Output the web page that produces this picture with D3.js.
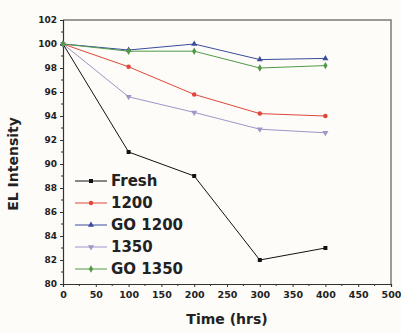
<!DOCTYPE html>
<html>
<head>
<meta charset="utf-8">
<script src="https://cdn.jsdelivr.net/npm/d3@7"></script>
<style>
  body { margin: 0; background: #fdfcf8; }
  svg text { font-family: "DejaVu Sans", sans-serif; font-weight: bold; fill: #222; }
</style>
</head>
<body>
<div id="chart"></div>
<script>
// data
var hours = [0, 100, 200, 300, 400];
var fresh = [100, 91.0, 89.0, 82.0, 83.0];
var s1200 = [100, 98.1, 95.8, 94.2, 94.0];
var go1200 = [100, 99.5, 100.0, 98.7, 98.8];
var s1350 = [100, 95.6, 94.3, 92.9, 92.6];
var go1350 = [100, 99.4, 99.4, 98.0, 98.2];

var seriesNames = ["Fresh", "1200", "GO 1200", "1350", "GO 1350"];
var seriesColors = ["#111111", "#e0463a", "#3a4c9c", "#a293c9", "#4f9a45"];
var seriesShapes = [d3.symbolSquare, d3.symbolCircle, d3.symbolTriangle, "down", d3.symbolDiamond];
var seriesData = [fresh, s1200, go1200, s1350, go1350];

var xTicks = d3.range(0, 501, 50);
var yTicks = d3.range(80, 103, 2);

var width = 401, height = 333;
var margin = {top: 20, right: 10, bottom: 49, left: 63};

var svg = d3.select("#chart").append("svg")
  .attr("width", width)
  .attr("height", height);

var x = d3.scaleLinear().domain([0, 500]).range([margin.left, width - margin.right]);
var y = d3.scaleLinear().domain([80, 102]).range([height - margin.bottom, margin.top]);

// frame (top + right)
svg.append("path")
  .attr("d", "M" + x(0) + "," + y(102) + "H" + x(500) + "V" + y(80))
  .style("fill", "none")
  .style("stroke", "#7a7a7a")
  .style("stroke-width", 1.5);

// x axis
var xAxis = svg.append("g")
  .attr("transform", "translate(0," + y(80) + ")")
  .call(d3.axisBottom(x).tickValues(xTicks).tickSize(3).tickPadding(4));
xAxis.append("g").selectAll("line")
  .data(d3.range(25, 500, 50)).enter().append("line")
  .attr("x1", function(d) { return x(d); })
  .attr("x2", function(d) { return x(d); })
  .attr("y2", 2);
xAxis.selectAll("text").style("font-size", "9.5px");

// y axis
var yAxis = svg.append("g")
  .attr("transform", "translate(" + x(0) + ",0)")
  .call(d3.axisLeft(y).tickValues(yTicks).tickSize(3).tickPadding(3));
yAxis.append("g").selectAll("line")
  .data(d3.range(81, 102, 2)).enter().append("line")
  .attr("y1", function(d) { return y(d); })
  .attr("y2", function(d) { return y(d); })
  .attr("x2", -2);
yAxis.selectAll("text").style("font-size", "9px");

svg.selectAll(".domain").style("stroke", "#333").style("stroke-width", 1.2);
svg.selectAll(".tick line, g g line").style("stroke", "#333");

function markerPath(shape, size) {
  if (shape === "down") {
    return d3.symbol().type(d3.symbolTriangle).size(size)();
  }
  return d3.symbol().type(shape).size(size)();
}

var line = d3.line()
  .x(function(d, i) { return x(hours[i]); })
  .y(function(d) { return y(d); });

seriesData.forEach(function(vals, k) {
  svg.append("path")
    .datum(vals)
    .attr("d", line)
    .style("fill", "none")
    .style("stroke", seriesColors[k])
    .style("stroke-width", 1);

  svg.selectAll(".m" + k)
    .data(vals).enter().append("path")
    .attr("class", "m" + k)
    .attr("d", markerPath(seriesShapes[k], 16))
    .attr("transform", function(d, i) {
      var t = "translate(" + x(hours[i]) + "," + y(d) + ")";
      return seriesShapes[k] === "down" ? t + " rotate(180)" : t;
    })
    .style("fill", seriesColors[k]);
});

// legend
var legend = svg.append("g");
seriesNames.forEach(function(name, k) {
  var ly = 181 + k * 22;
  legend.append("line")
    .attr("x1", 75).attr("x2", 107)
    .attr("y1", ly).attr("y2", ly)
    .style("stroke", seriesColors[k])
    .style("stroke-width", 1);
  legend.append("path")
    .attr("d", markerPath(seriesShapes[k], 16))
    .attr("transform", "translate(91," + ly + ")" + (seriesShapes[k] === "down" ? " rotate(180)" : ""))
    .style("fill", seriesColors[k]);
  legend.append("text")
    .attr("x", 111)
    .attr("y", ly)
    .attr("dy", "0.36em")
    .style("font-size", "15px")
    .text(name);
});

// axis titles
svg.append("text")
  .attr("x", (x(0) + x(500)) / 2)
  .attr("y", 324)
  .attr("text-anchor", "middle")
  .style("font-size", "14px")
  .text("Time (hrs)");

svg.append("text")
  .attr("transform", "translate(18,164) rotate(-90)")
  .attr("text-anchor", "middle")
  .style("font-size", "14px")
  .text("EL Intensity");
</script>
</body>
</html>
